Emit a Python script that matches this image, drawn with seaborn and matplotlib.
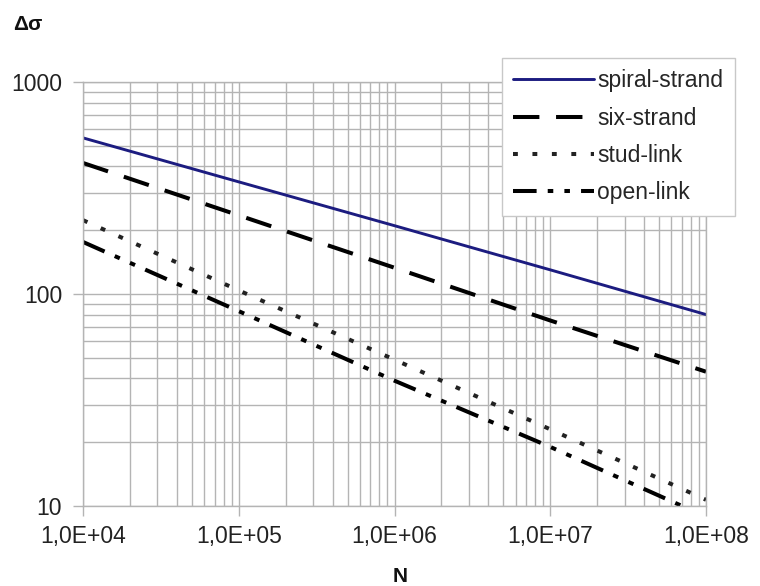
import numpy as np
import matplotlib
matplotlib.use("Agg")
import matplotlib.pyplot as plt
import seaborn as sns
from matplotlib.ticker import FixedLocator, FixedFormatter, LogLocator, NullFormatter

# cycles N, read at each decade
N = [1e4, 1e5, 1e6, 1e7, 1e8]
spiral_strand = [545, 338, 210, 130, 80]
six_strand = [415, 235, 133, 75, 43]
stud_link = [223, 104, 49, 23, 10.7]
open_link = [176, 83, 39, 19, 8.9]

labels = ["spiral-strand", "six-strand", "stud-link", "open-link"]
x_ticks = [1e4, 1e5, 1e6, 1e7, 1e8]
x_tick_labels = ["1,0E+04", "1,0E+05", "1,0E+06", "1,0E+07", "1,0E+08"]
y_ticks = [10, 100, 1000]
y_tick_labels = ["10", "100", "1000"]

sns.set_theme(style="white")
plt.rcParams["font.family"] = ["Liberation Sans", "DejaVu Sans"]
plt.rcParams["lines.scale_dashes"] = False

fig = plt.figure(figsize=(7.6, 5.86), dpi=100)
ax = fig.add_axes([83 / 760, 1 - 506 / 586, (706 - 83) / 760, (506 - 82) / 586])

series = [spiral_strand, six_strand, stud_link, open_link]
styles = [
    dict(color="#1c1c80", lw=2.1, dashes=None),
    dict(color="black", lw=2.9, dashes=(19, 12)),
    dict(color="#222222", lw=2.9, dashes=(3.5, 10.5)),
    dict(color="black", lw=2.9, dashes=(17, 8, 4, 8, 4, 8)),
]
for vals, lab, st in zip(series, labels, styles):
    sns.lineplot(x=N, y=vals, ax=ax, color=st["color"], lw=st["lw"], label=lab)
    if st["dashes"] is not None:
        ax.lines[-1].set_dashes(st["dashes"])

ax.set_xscale("log")
ax.set_yscale("log")
ax.set_xlim(1e4, 1e8)
ax.set_ylim(10, 1000)

ax.xaxis.set_major_locator(FixedLocator(x_ticks))
ax.xaxis.set_major_formatter(FixedFormatter(x_tick_labels))
ax.yaxis.set_major_locator(FixedLocator(y_ticks))
ax.yaxis.set_major_formatter(FixedFormatter(y_tick_labels))
ax.xaxis.set_minor_locator(LogLocator(base=10, subs=np.arange(2, 10), numticks=20))
ax.yaxis.set_minor_locator(LogLocator(base=10, subs=np.arange(2, 10), numticks=20))
ax.xaxis.set_minor_formatter(NullFormatter())
ax.yaxis.set_minor_formatter(NullFormatter())

ax.grid(True, which="both", color="#b4b4b4", lw=1.0)
ax.set_axisbelow(True)
for s in ax.spines.values():
    s.set_color("#b4b4b4")
    s.set_linewidth(1.0)

ax.tick_params(axis="both", which="major", labelsize=16.5, colors="#b4b4b4",
               labelcolor="#222222", length=7, width=1.0, direction="out",
               left=True, bottom=True)
ax.tick_params(axis="y", which="major", pad=8)
ax.tick_params(axis="x", which="major", pad=7)
ax.tick_params(which="minor", length=0)

ax.set_xlabel("")
ax.set_ylabel("")

leg = ax.legend(loc="upper left", bbox_to_anchor=(502 / 760, 1 - 58 / 586),
                bbox_transform=fig.transFigure, fontsize=16.5, frameon=True,
                fancybox=False, edgecolor="#c8c8c8", framealpha=1,
                handlelength=3.5, handletextpad=0.15, labelspacing=0.62,
                borderpad=0.5, borderaxespad=0)
leg.get_frame().set_linewidth(1.0)

fig.text(13 / 760, 1 - 25 / 586, "Δσ", fontsize=15, fontweight="bold",
         ha="left", va="center", color="#111111")
fig.text(400 / 760, 1 - 577 / 586, "N", fontsize=15, fontweight="bold",
         ha="center", va="center", color="#111111")

fig.savefig("out.png", dpi=100, facecolor="white")
